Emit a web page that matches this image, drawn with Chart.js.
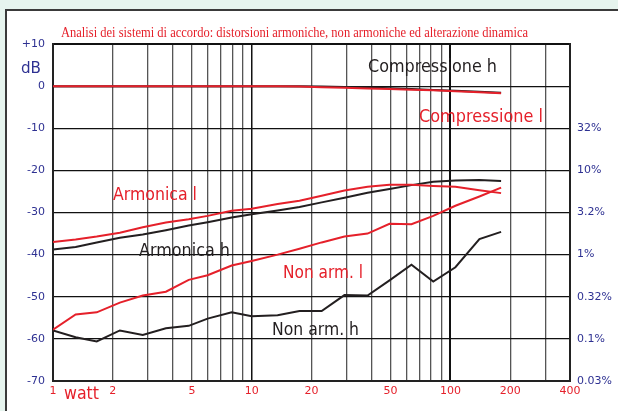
<!DOCTYPE html>
<html>
<head>
<meta charset="utf-8">
<script src="https://cdn.jsdelivr.net/npm/chart.js@4/dist/chart.umd.min.js"></script>
<style>
  html, body { margin: 0; padding: 0; background: #e6f4ee; }
  #wrap { width: 618px; height: 411px; }
</style>
</head>
<body>
<div id="wrap"><canvas id="myChart" width="618" height="411"></canvas></div>
<script>
// potenza in watt dei punti di misura
var watt = [1, 1.3, 1.66, 2.17, 2.83, 3.7, 4.82, 6, 7.93, 10, 13.5, 17.4, 22.5, 29.3, 38.3, 49.4, 63.7, 82, 106, 140, 180];

var armonicaL = [-37.0, -36.4, -35.7, -34.8, -33.5, -32.4, -31.6, -30.8, -29.6, -29.1, -28.0, -27.2, -26.0, -24.8, -23.9, -23.4, -23.4, -23.7, -23.9, -24.7, -25.4];
var armonicaH = [-38.8, -38.2, -37.1, -36.0, -35.2, -34.2, -33.1, -32.3, -31.2, -30.4, -29.5, -28.7, -27.6, -26.5, -25.3, -24.4, -23.5, -22.7, -22.4, -22.3, -22.5];
var nonArmL = [-57.8, -54.2, -53.7, -51.4, -49.7, -48.8, -46.0, -44.9, -42.6, -41.5, -40.0, -38.6, -37.1, -35.7, -35.0, -32.7, -32.8, -30.8, -28.4, -26.2, -24.1];
var nonArmH = [-58.0, -59.6, -60.6, -58.0, -59.1, -57.5, -56.9, -55.2, -53.7, -54.6, -54.4, -53.4, -53.4, -49.6, -49.7, -46.1, -42.4, -46.4, -43.0, -36.3, -34.6];
var compressioneH = [0, 0, 0, 0, 0, 0, 0, 0, 0, 0, 0, 0, -0.1, -0.2, -0.35, -0.5, -0.7, -0.9, -1.1, -1.35, -1.55];
var compressioneL = [0, 0, 0, 0, 0, 0, 0, 0, 0, 0, 0, -0.1, -0.25, -0.4, -0.55, -0.7, -0.85, -1.0, -1.2, -1.45, -1.7];

var xGridTicks = [1, 2, 3, 4, 5, 6, 7, 8, 9, 10, 20, 30, 40, 50, 60, 70, 80, 90, 100, 200, 300, 400];
var xLabels = [1, 2, 5, 10, 20, 50, 100, 200, 400];
var percentLabels = {'-10': '32%', '-20': '10%', '-30': '3.2%', '-40': '1%', '-50': '0.32%', '-60': '0.1%', '-70': '0.03%'};

var RED = '#e5202a';
var BLACK = '#231f20';
var BLUE = '#2e3192';

function pts(arr) {
  var out = [];
  for (var i = 0; i < arr.length; i++) {
    out.push({x: watt[i], y: arr[i]});
  }
  return out;
}

function line(label, arr, color) {
  return {
    label: label,
    data: pts(arr),
    borderColor: color,
    backgroundColor: color,
    borderWidth: 2,
    pointRadius: 0,
    tension: 0,
    yAxisID: 'y'
  };
}

var sfondo = {
  id: 'sfondo',
  beforeDraw: function(chart) {
    var c = chart.ctx;
    c.save();
    c.fillStyle = '#e6f4ee';
    c.fillRect(0, 0, chart.width, chart.height);
    c.fillStyle = '#ffffff';
    c.fillRect(6, 10, chart.width - 6, chart.height - 10);
    c.strokeStyle = '#3a3a3a';
    c.lineWidth = 2;
    c.beginPath();
    c.moveTo(6, chart.height);
    c.lineTo(6, 10);
    c.lineTo(chart.width, 10);
    c.stroke();
    c.restore();
  }
};

var scritte = {
  id: 'scritte',
  afterDraw: function(chart) {
    var c = chart.ctx;
    c.save();
    c.textBaseline = 'alphabetic';
    c.textAlign = 'left';
    // titolo
    c.fillStyle = RED;
    c.font = '14px "Liberation Serif", serif';
    c.fillText('Analisi dei sistemi di accordo: distorsioni armoniche, non armoniche ed alterazione dinamica', 61, 37, 467);
    // dB e watt
    c.fillStyle = BLUE;
    c.font = '16px "DejaVu Sans", sans-serif';
    c.fillText('dB', 21, 73, 20);
    c.fillStyle = RED;
    c.font = '17px "DejaVu Sans", sans-serif';
    c.fillText('watt', 64, 399, 35);
    // etichette delle curve
    c.font = '17px "DejaVu Sans", sans-serif';
    c.fillStyle = BLACK;
    c.fillText('Compressione h', 368, 72, 129);
    c.fillText('Armonica h', 139, 256, 91);
    c.fillText('Non arm. h', 272, 335, 87);
    c.fillStyle = RED;
    c.fillText('Compressione l', 419, 122, 124);
    c.fillText('Armonica l', 113, 200, 84);
    c.fillText('Non arm. l', 283, 278, 80);
    c.restore();
  }
};

var ctx = document.getElementById('myChart').getContext('2d');
var myChart = new Chart(ctx, {
  type: 'line',
  data: {
    // il primo dataset viene disegnato sopra
    datasets: [
      line('Compressione l', compressioneL, RED),
      line('Compressione h', compressioneH, BLACK),
      line('Armonica l', armonicaL, RED),
      line('Armonica h', armonicaH, BLACK),
      line('Non arm. l', nonArmL, RED),
      line('Non arm. h', nonArmH, BLACK)
    ]
  },
  options: {
    responsive: false,
    animation: false,
    layout: { padding: { top: 44, left: 0, right: 0, bottom: 0 } },
    plugins: {
      legend: { display: false },
      tooltip: { enabled: false },
      title: { display: false }
    },
    scales: {
      x: {
        type: 'logarithmic',
        min: 1,
        max: 400,
        afterBuildTicks: function(scale) {
          scale.ticks = xGridTicks.map(function(v) { return {value: v}; });
        },
        afterFit: function(scale) { scale.height = 30; },
        ticks: {
          autoSkip: false,
          maxRotation: 0,
          padding: 4,
          color: RED,
          font: { family: 'DejaVu Sans', size: 11 },
          callback: function(value) {
            return xLabels.indexOf(value) >= 0 ? String(value) : '';
          }
        },
        grid: {
          drawTicks: false,
          color: function(c) {
            var v = c.tick ? c.tick.value : 0;
            return (v === 1 || v === 10 || v === 100) ? '#111111' : '#555555';
          },
          lineWidth: function(c) {
            var v = c.tick ? c.tick.value : 0;
            if (v === 100) return 2;
            if (v === 10) return 1.5;
            return 1.3;
          }
        },
        border: { display: true, color: '#222222', width: 2 }
      },
      y: {
        position: 'left',
        min: -70,
        max: 10,
        afterFit: function(scale) { scale.width = 53; },
        ticks: {
          stepSize: 10,
          padding: 8,
          color: BLUE,
          font: { family: 'DejaVu Sans', size: 11 },
          callback: function(v) { return v > 0 ? '+' + v : String(v); }
        },
        grid: {
          drawTicks: false,
          color: '#111111',
          lineWidth: function(c) {
            return (c.tick && c.tick.value === 10) ? 2 : 1.2;
          }
        },
        border: { display: true, color: '#222222', width: 2 }
      },
      y2: {
        position: 'right',
        min: -70,
        max: 10,
        afterFit: function(scale) { scale.width = 48; },
        ticks: {
          stepSize: 10,
          padding: 7,
          color: BLUE,
          font: { family: 'DejaVu Sans', size: 11 },
          callback: function(v) { return percentLabels[String(v)] || ''; }
        },
        grid: { display: false, drawTicks: false },
        border: { display: true, color: '#222222', width: 2 }
      }
    }
  },
  plugins: [sfondo, scritte]
});
</script>
</body>
</html>
